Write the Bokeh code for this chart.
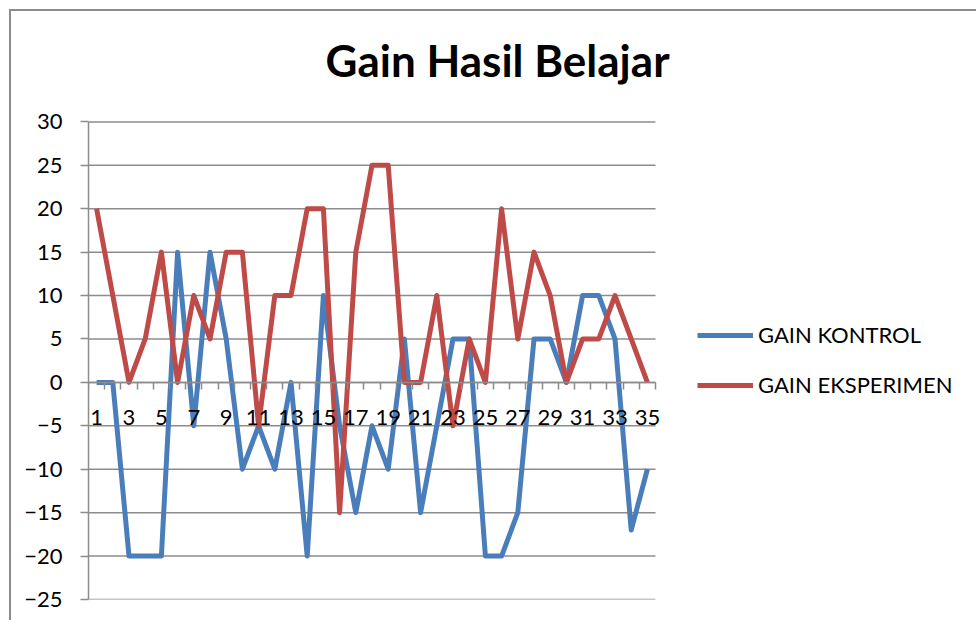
from bokeh.plotting import figure
from bokeh.models import (FixedTicker, Legend, LegendItem, Range1d, ColumnDataSource, Label)
from bokeh.embed import file_html
from bokeh.resources import INLINE

# ---- data ----
students = list(range(1, 36))
gain_kontrol = [0, 0, -20, -20, -20, 15, -5, 15, 5, -10, -5, -10, 0, -20, 10, -5, -15, -5,
                -10, 5, -15, -5, 5, 5, -20, -20, -15, 5, 5, 0, 10, 10, 5, -17, -10]
gain_eksperimen = [20, 10, 0, 5, 15, 0, 10, 5, 15, 15, -5, 10, 10, 20, 20, -15, 15, 25,
                   25, 0, 0, 10, -5, 5, 0, 20, 5, 15, 10, 0, 5, 5, 10, 5, 0]
series_names = ["GAIN KONTROL", "GAIN EKSPERIMEN"]
title_text = "Gain Hasil Belajar"
y_ticks = [-25, -20, -15, -10, -5, 0, 5, 10, 15, 20, 25, 30]
x_label_ticks = students[::2]

BLUE = "#4A7EBB"
RED = "#BE4B48"
GRID = "#8C8C8C"
FONT = "Lato"

src = ColumnDataSource(dict(x=students, k=gain_kontrol, e=gain_eksperimen))

# layout (page pixels)
OFF, BW = 9, 2                     # CSS margin and chart border
FIG_X0 = OFF + BW                  # figure content origin
FRAME_L, PLOT_T, FRAME_B = 88, 121, 597
PLOT_R = 655                       # right end of the plotted category area
W, H = 978 - FIG_X0, 622 - FIG_X0
frame_w = 978 - FRAME_L
frame_h = FRAME_B - FIG_X0
x_start, x_cat_end = 0.5, len(students) + 0.5
px_per_cat = (PLOT_R - FRAME_L) / (x_cat_end - x_start)
x_end = x_start + frame_w / px_per_cat
y_start, y_top = y_ticks[0], y_ticks[-1]
px_per_unit = (FRAME_B - PLOT_T) / (y_top - y_start)
y_end = y_start + frame_h / px_per_unit

p = figure(width=W, height=H, x_range=Range1d(x_start, x_end), y_range=Range1d(y_start, y_end),
           output_backend="svg", toolbar_location=None,
           min_border_left=FRAME_L - FIG_X0, min_border_right=0,
           min_border_top=0, min_border_bottom=622 - FRAME_B - FIG_X0 + OFF)
p.styles = {"margin-left": f"{OFF}px", "margin-top": f"{OFF}px",
            "border-left": f"{BW}px solid {GRID}", "border-top": f"{BW}px solid {GRID}"}
p.title.visible = False
p.outline_line_color = None
p.background_fill_color = "white"
p.border_fill_color = "white"

# horizontal grid lines, limited to the category area
p.xgrid.visible = False
p.ygrid.visible = False
p.segment(x0=x_start, x1=x_cat_end, y0=y_ticks, y1=y_ticks, line_color=GRID, line_width=1.5)

# y axis
p.yaxis.bounds = (y_start, y_top)
p.yaxis.ticker = FixedTicker(ticks=y_ticks)
p.yaxis.axis_line_color = GRID
p.yaxis.axis_line_width = 1.5
p.yaxis.major_tick_line_color = GRID
p.yaxis.major_tick_line_width = 1.5
p.yaxis.major_tick_out = 8
p.yaxis.major_tick_in = 0
p.yaxis.minor_tick_line_color = None
p.yaxis.major_label_standoff = 18
p.yaxis.major_label_text_font = FONT
p.yaxis.major_label_text_font_size = "22px"
p.yaxis.major_label_text_color = "black"

# x axis at y = 0
p.xaxis.fixed_location = 0
p.xaxis.bounds = (x_start, x_cat_end)
p.xaxis.ticker = FixedTicker(ticks=x_label_ticks,
                             minor_ticks=[s - 0.5 for s in students] + [x_cat_end])
p.xaxis.axis_line_color = GRID
p.xaxis.axis_line_width = 1.5
p.xaxis.major_tick_line_color = None
p.xaxis.major_tick_out = 0
p.xaxis.major_tick_in = 0
p.xaxis.minor_tick_line_color = GRID
p.xaxis.minor_tick_line_width = 1.5
p.xaxis.minor_tick_out = 7
p.xaxis.minor_tick_in = 0
p.xaxis.major_label_standoff = 21
p.xaxis.major_label_text_font = FONT
p.xaxis.major_label_text_font_size = "22px"
p.xaxis.major_label_text_color = "black"

# series
r1 = p.line("x", "k", source=src, line_color=BLUE, line_width=5, line_join="round")
r2 = p.line("x", "e", source=src, line_color=RED, line_width=5, line_join="round")

legend = Legend(items=[LegendItem(label=series_names[0], renderers=[r1]),
                       LegendItem(label=series_names[1], renderers=[r2])],
                location=(697 - FRAME_L, FRAME_B - 396), padding=0, margin=0, spacing=23,
                glyph_width=56, glyph_height=24, label_height=24, label_standoff=5,
                label_text_font=FONT, label_text_font_size="22px", label_text_color="black",
                border_line_color=None, background_fill_alpha=0)
p.add_layout(legend, "center")

# chart title
p.add_layout(Label(x=325 - FRAME_L, y=FRAME_B - 57, x_units="screen", y_units="screen",
                   text=title_text, text_font=FONT, text_font_style="bold",
                   text_font_size="44px", text_color="black",
                   text_align="left", text_baseline="alphabetic"))

open("out.html", "w").write(file_html(p, INLINE))
